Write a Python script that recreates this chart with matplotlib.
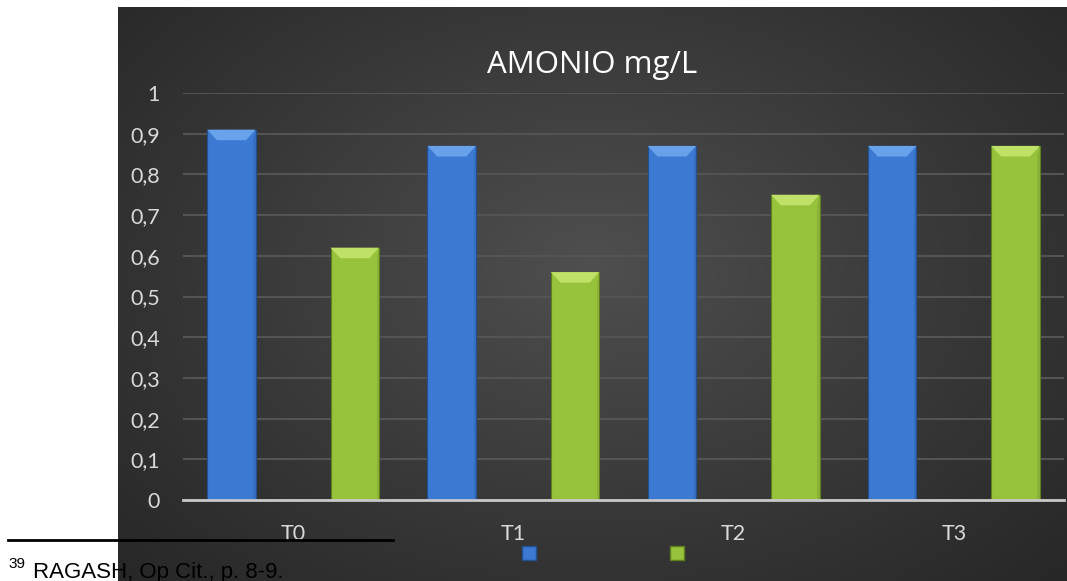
import numpy as np
import matplotlib.pyplot as plt
from matplotlib.patches import Polygon, Patch

categories = ['T0', 'T1', 'T2', 'T3']
serie_1 = [0.91, 0.87, 0.87, 0.87]
serie_2 = [0.62, 0.56, 0.75, 0.87]
y_ticks = [0, 0.1, 0.2, 0.3, 0.4, 0.5, 0.6, 0.7, 0.8, 0.9, 1.0]
y_labels = ['0', '0,1', '0,2', '0,3', '0,4', '0,5', '0,6', '0,7', '0,8', '0,9', '1']

W, H = 1067, 581
fig = plt.figure(figsize=(W / 100, H / 100), dpi=100)
fig.patch.set_facecolor('white')

# dark panel with a soft radial light in the middle
bg = fig.add_axes([118 / W, 0, 1 - 118 / W, 1 - 7 / H])
bg.set_axis_off()
yy, xx = np.mgrid[0:1:300j, 0:1:500j]
r = np.sqrt(((xx - 0.5) / 0.75) ** 2 + ((yy - 0.55) / 0.85) ** 2)
shade = np.clip(1 - r, 0, 1) ** 1.1
c0 = np.array([0.145, 0.145, 0.145])
c1 = np.array([0.31, 0.31, 0.31])
img = c0 + (c1 - c0) * shade[..., None]
bg.imshow(img, aspect='auto', extent=[0, 1, 0, 1], origin='lower')
bg.set_xlim(0, 1)
bg.set_ylim(0, 1)

ax = fig.add_axes([183 / W, 1 - 500 / H, (1064 - 183) / W, (500 - 93) / H])
ax.patch.set_alpha(0)

x = np.arange(len(categories))
width = 0.22
off = 0.28

blue, blue_top, blue_edge = '#3b79d2', '#68a2ea', '#23508f'
green, green_top, green_edge = '#97c23c', '#bfe168', '#5f7f1f'

b1 = ax.bar(x - off, serie_1, width, color=blue, edgecolor=blue_edge, linewidth=0.8, zorder=3)
b2 = ax.bar(x + off, serie_2, width, color=green, edgecolor=green_edge, linewidth=0.8, zorder=3)


def bevel(bars, top_color):
    # light bevelled cap on top of each bar
    bev_y = 0.026
    for b in bars:
        x0, w, h = b.get_x(), b.get_width(), b.get_height()
        inset = w * 0.2
        cap = Polygon([[x0, h], [x0 + w, h], [x0 + w - inset, h - bev_y],
                       [x0 + inset, h - bev_y]], closed=True,
                      facecolor=top_color, edgecolor='none', zorder=4)
        ax.add_patch(cap)
        side = Polygon([[x0 + w, h], [x0 + w, 0], [x0 + w - w * 0.05, 0],
                        [x0 + w - w * 0.05, h - bev_y]], closed=True,
                       facecolor='black', alpha=0.08, edgecolor='none', zorder=4)
        ax.add_patch(side)


bevel(b1, blue_top)
bevel(b2, green_top)

ax.set_xlim(-0.5, len(categories) - 0.5)
ax.set_ylim(0, 1)
ax.set_yticks(y_ticks)
ax.set_yticklabels(y_labels)
ax.set_xticks(x)
ax.set_xticklabels(categories)
ax.yaxis.grid(True, color='#545454', linewidth=1.5, zorder=0)
ax.set_axisbelow(True)
for s in ['top', 'right', 'left']:
    ax.spines[s].set_visible(False)
ax.spines['bottom'].set_color('#c8c8c8')
ax.spines['bottom'].set_linewidth(2)
ax.spines['bottom'].set_zorder(5)
ax.tick_params(axis='both', length=0, colors='#d9d9d9', labelsize=15.5)
ax.tick_params(axis='y', pad=16.5)
ax.tick_params(axis='x', pad=17)
for lab in ax.get_xticklabels() + ax.get_yticklabels():
    lab.set_family('Lato')

fig.text(592 / W, 1 - 65 / H, 'AMONIO mg/L', color='white', fontsize=22.5,
         family='Open Sans', ha='center', va='center')

handles = [Patch(facecolor=blue, edgecolor=blue_edge), Patch(facecolor=green, edgecolor=green_edge)]
fig.legend(handles, ['', ''], ncol=2, loc='center', bbox_to_anchor=(603 / W, 1 - 554 / H),
           frameon=False, handlelength=0.8, handleheight=0.8, handletextpad=0.0,
           columnspacing=7.4, fontsize=13)

# footnote over the page
fig.add_artist(plt.Line2D([8 / W, 393 / W], [1 - 540 / H, 1 - 540 / H],
                          color='black', linewidth=2, transform=fig.transFigure))
fig.text(8 / W, 1 - 568 / H, '39', fontsize=11, family='Liberation Sans',
         color='black', va='baseline')
fig.text(33 / W, 1 - 578 / H, 'RAGASH, Op Cit., p. 8-9.', fontsize=16,
         family='Liberation Sans', color='black', va='baseline')

fig.savefig('out.png', dpi=100)
